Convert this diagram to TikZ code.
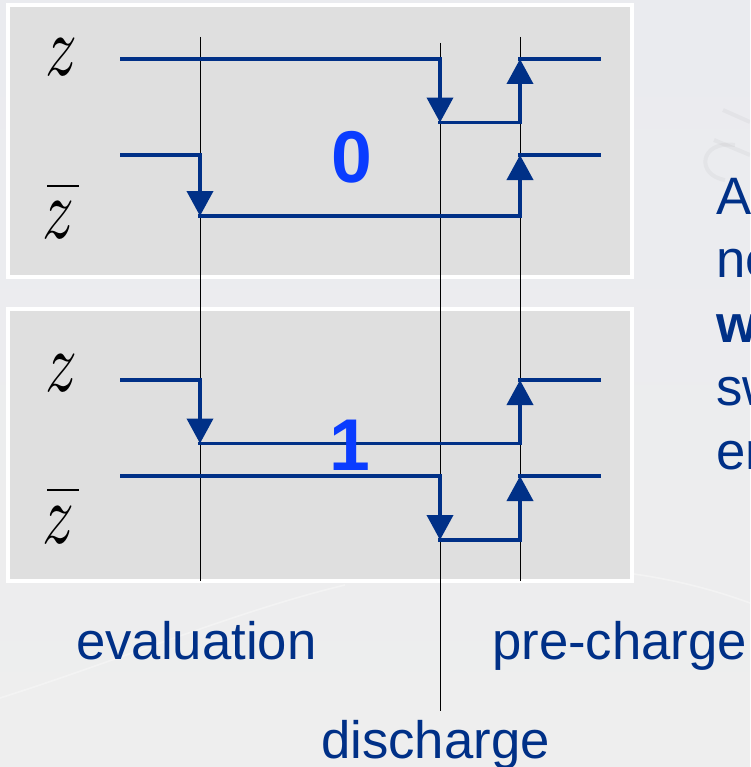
\documentclass[tikz,border=0pt]{standalone}
\usepackage{fontspec}
\setmainfont{Liberation Sans}
\usetikzlibrary{arrows.meta}
\definecolor{navy}{HTML}{003087}
\definecolor{vivid}{HTML}{0A3CFF}
\definecolor{panel}{HTML}{DFDFDF}
\definecolor{bgtop}{HTML}{EAEBEF}
\definecolor{bgbot}{HTML}{EEEEEE}
\newcommand{\zsym}{\resizebox{24pt}{27.5pt}{$z$}}
\tikzset{
  x=0.75pt,y=-0.75pt,
  panelbox/.style={fill=panel,draw=white,line width=3pt},
  guide/.style={draw=black,line width=0.6pt},
  wire/.style={draw=navy,line width=2.9pt,line cap=rect},
  wiretip/.style={draw=navy,line width=2.9pt,-{Triangle[length=18.75pt,width=19.5pt,fill=navy]}},
  word/.style={text=navy,font=\fontsize{39.5}{39.5}\selectfont,anchor=base west,inner sep=0pt},
  bit/.style={text=vivid,font=\fontsize{55}{55}\selectfont\bfseries,inner sep=0pt},
  sym/.style={text=black,inner sep=0pt},
  symbar/.style={draw=black,line width=2pt}
}
\begin{document}
\begin{tikzpicture}
\useasboundingbox (0,0) rectangle (750,767);
\begin{scope}
\clip (0,0) rectangle (750,767);
\shade[top color=bgtop,bottom color=bgbot] (0,0) rectangle (750,767);
% faint background texture
\draw[white,opacity=0.35,line width=1.2pt] (0,698) .. controls (120,660) and (240,610) .. (345,585);
\draw[white,opacity=0.35,line width=1.2pt] (440,572) .. controls (560,560) and (660,570) .. (750,603);
\draw[gray,opacity=0.07,line width=3pt] (723,110) -- (750,122);
\draw[gray,opacity=0.07,line width=3pt] (714,140) -- (750,155);
\draw[gray,opacity=0.07,line width=3pt] (735,145) .. controls (700,140) and (695,175) .. (725,180);
% panels
\path[panelbox] (8,5) rectangle (632,277);
\path[panelbox] (8,309) rectangle (632,581);
% guides
\coordinate (g1a) at (200,37); \coordinate (g1b) at (200,581);
\coordinate (g2a) at (440,43); \coordinate (g2b) at (440,711);
\coordinate (g3a) at (520,37); \coordinate (g3b) at (520,581);
\draw[guide] (g1a) -- (g1b);
\draw[guide] (g2a) -- (g2b);
\draw[guide] (g3a) -- (g3b);
% top panel, z
\coordinate (a1) at (122,59); \coordinate (a2) at (440,59); \coordinate (a3) at (440,122.5);
\coordinate (a4) at (520,122.5); \coordinate (a5) at (520,59); \coordinate (a6) at (599,59);
\draw[wire] (a1) -- (a2);
\draw[wiretip] (a2) -- (a3);
\draw[wire] (a3) -- (a4);
\draw[wiretip] (a4) -- (a5);
\draw[wire] (a5) -- (a6);
% top panel, z bar
\coordinate (b1) at (122,155); \coordinate (b2) at (200,155); \coordinate (b3) at (200,216);
\coordinate (b4) at (520,216); \coordinate (b5) at (520,155); \coordinate (b6) at (599,155);
\draw[wire] (b1) -- (b2);
\draw[wiretip] (b2) -- (b3);
\draw[wire] (b3) -- (b4);
\draw[wiretip] (b4) -- (b5);
\draw[wire] (b5) -- (b6);
% lower panel, z
\coordinate (c1) at (122,380); \coordinate (c2) at (200,380); \coordinate (c3) at (200,443.5);
\coordinate (c4) at (520,443.5); \coordinate (c5) at (520,380); \coordinate (c6) at (599,380);
\draw[wire] (c1) -- (c2);
\draw[wiretip] (c2) -- (c3);
\draw[wire] (c3) -- (c4);
\draw[wiretip] (c4) -- (c5);
\draw[wire] (c5) -- (c6);
% lower panel, z bar
\coordinate (d1) at (122,476); \coordinate (d2) at (440,476); \coordinate (d3) at (440,540);
\coordinate (d4) at (520,540); \coordinate (d5) at (520,476); \coordinate (d6) at (599,476);
\draw[wire] (d1) -- (d2);
\draw[wiretip] (d2) -- (d3);
\draw[wire] (d3) -- (d4);
\draw[wiretip] (d4) -- (d5);
\draw[wire] (d5) -- (d6);
% labels
\node[sym] (z1) at (62,57.5) {\zsym};
\node[sym] (zb1) at (59,220) {\zsym};
\coordinate (zb1l) at (47,186); \coordinate (zb1r) at (79,186);
\draw[symbar] (zb1l) -- (zb1r);
\node[sym] (z2) at (62,373) {\zsym};
\node[sym] (zb2) at (59,525) {\zsym};
\coordinate (zb2l) at (47,490); \coordinate (zb2r) at (79,490);
\draw[symbar] (zb2l) -- (zb2r);
\node[bit] (zero) at (352,157) {0};
\node[bit] (one) at (350,445) {1};
\node[word] (eval) at (76,659) {evaluation};
\node[word] (pre) at (492,659) {pre-charge};
\node[word] (dis) at (321,758) {discharge};
\node[word] (t1) at (716,214) {A};
\node[word] (t2) at (716,277) {ne};
\node[word,font=\fontsize{39.5}{39.5}\selectfont\bfseries] (t3) at (716,342) {w};
\node[word] (t4) at (716,405) {sw};
\node[word] (t5) at (716,469) {en};
\end{scope}
\end{tikzpicture}
\end{document}
